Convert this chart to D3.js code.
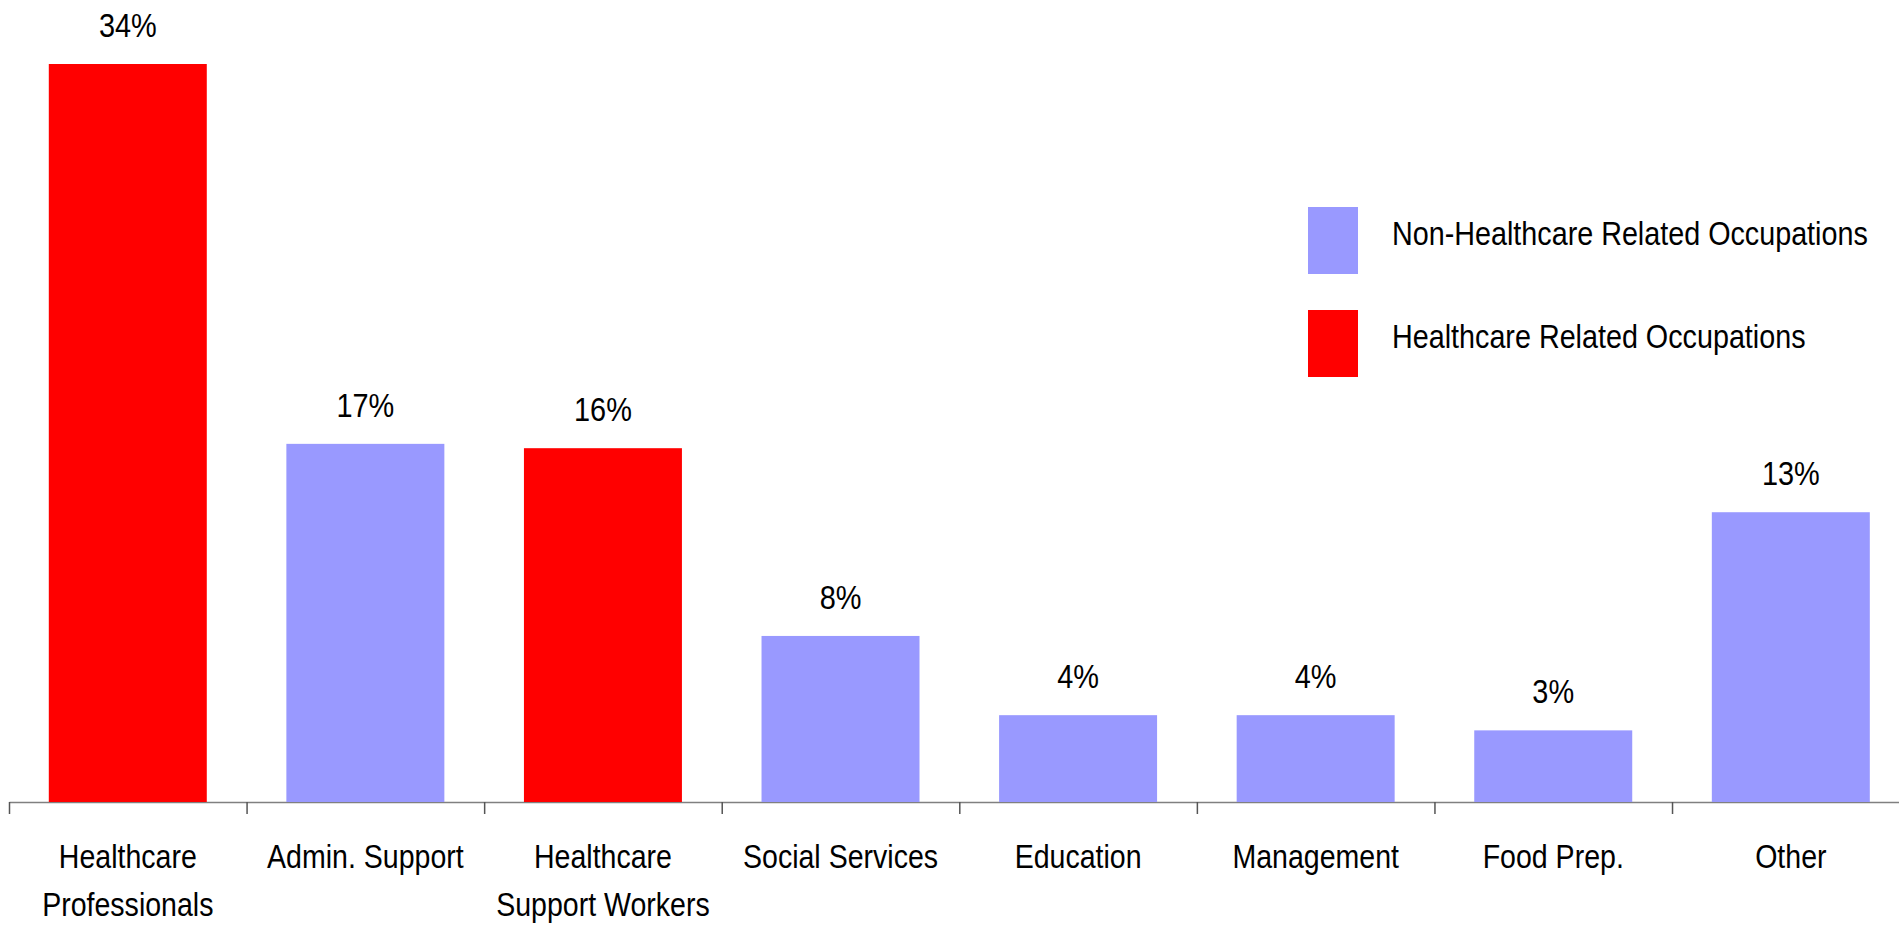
<!DOCTYPE html>
<html>
<head>
<meta charset="utf-8">
<style>
body {
  margin: 0;
  background: #fff;
}
svg {
  font-family: "Liberation Sans", Arial, sans-serif;
}
.axis path {
  stroke: #808080;
  stroke-width: 1.5;
}
.axis line {
  stroke: #555;
  stroke-width: 1.5;
}
</style>
</head>
<body>
<script src="https://cdn.jsdelivr.net/npm/d3@7"></script>
<script>

var categories = ["Healthcare\nProfessionals", "Admin. Support", "Healthcare\nSupport Workers",
                  "Social Services", "Education", "Management", "Food Prep.", "Other"];
var shares = [34, 16.5, 16.3, 7.65, 4.0, 4.0, 3.3, 13.35];
var shareLabels = ["34%", "17%", "16%", "8%", "4%", "4%", "3%", "13%"];
var groups = ["hc", "non", "hc", "non", "non", "non", "non", "non"];

var legendKeys = ["non", "hc"];
var legendNames = ["Non-Healthcare Related Occupations", "Healthcare Related Occupations"];
var colors = {non: "#9999ff", hc: "#ff0000"};

var width = 1899,
    height = 925;

// the original font is a bit narrower than Arial, squeeze it horizontally
function squeeze(k) { return "scale(" + k + ",1)"; }

var svg = d3.select("body").append("svg")
    .attr("width", width)
    .attr("height", height);

var x = d3.scaleBand()
    .domain(categories)
    .range([9, 1909.6])
    .paddingInner(0.335)
    .paddingOuter(0.1675);

var y = d3.scaleLinear()
    .domain([0, 34])
    .range([802, 64]);

// ticks sit between the bars, so use an index scale for them
var xb = d3.scaleLinear()
    .domain([0, categories.length])
    .range(x.range());

svg.append("g")
    .attr("class", "axis")
    .attr("transform", "translate(0," + y(0) + ")")
    .call(d3.axisBottom(xb)
      .tickValues(d3.range(categories.length + 1))
      .tickSize(12)
      .tickSizeOuter(0)
      .tickFormat(""));

svg.selectAll(".bar")
    .data(shares)
    .enter().append("rect")
    .attr("class", "bar")
    .attr("x", function(d, i) { return x(categories[i]); })
    .attr("y", function(d) { return y(d); })
    .attr("width", x.bandwidth())
    .attr("height", function(d) { return y(0) - y(d); })
    .attr("fill", function(d, i) { return colors[groups[i]]; });

svg.selectAll(".value")
    .data(shares)
    .enter().append("g")
    .attr("class", "value")
    .attr("transform", function(d, i) {
      return "translate(" + (x(categories[i]) + x.bandwidth() / 2) + "," + (y(d) - 27) + ")";
    })
    .append("text")
    .attr("transform", squeeze(0.85))
    .attr("text-anchor", "middle")
    .style("font-size", "34px")
    .text(function(d, i) { return shareLabels[i]; });

var cat = svg.selectAll(".cat")
    .data(categories)
    .enter().append("g")
    .attr("class", "cat")
    .attr("transform", function(d) {
      return "translate(" + (x(d) + x.bandwidth() / 2) + ",868)";
    })
    .append("text")
    .attr("transform", squeeze(0.865))
    .attr("text-anchor", "middle")
    .style("font-size", "33px");

cat.selectAll("tspan")
    .data(function(d) { return d.split("\n"); })
    .enter().append("tspan")
    .attr("x", 0)
    .attr("y", function(d, i) { return i * 48; })
    .text(function(d) { return d; });

var legend = svg.selectAll(".legend")
    .data(legendKeys)
    .enter().append("g")
    .attr("class", "legend")
    .attr("transform", function(d, i) { return "translate(1308," + (207 + i * 103) + ")"; });

legend.append("rect")
    .attr("width", 50)
    .attr("height", 67)
    .attr("fill", function(d) { return colors[d]; });

legend.append("g")
    .attr("transform", "translate(84,38)")
    .append("text")
    .attr("transform", squeeze(0.845))
    .style("font-size", "34px")
    .text(function(d, i) { return legendNames[i]; });

</script>
</body>
</html>
